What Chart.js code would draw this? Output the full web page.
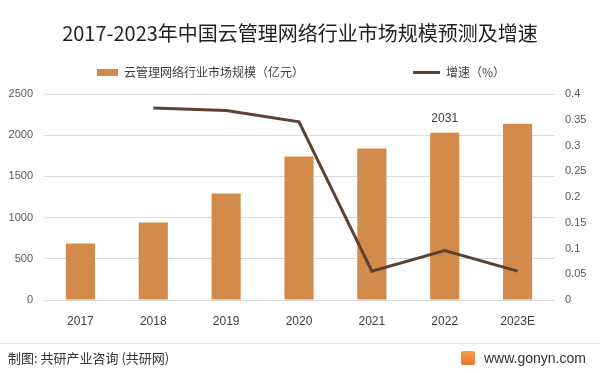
<!DOCTYPE html>
<html lang="zh">
<head>
  <meta charset="UTF-8">
  <title>2017-2023年中国云管理网络行业市场规模预测及增速</title>
  <script src="https://cdn.jsdelivr.net/npm/chart.js@4.4.0/dist/chart.umd.min.js"></script>
  <style>
    body { margin: 0; background: #fff; font-family: "Noto Sans CJK SC", sans-serif; }
    #wrap { position: relative; width: 600px; height: 373px; overflow: hidden; }
    #chart { position: absolute; left: 0; top: 0; }
    #title { position: absolute; top: 19px; left: 0; width: 600px; text-align: center;
             font-size: 20px; line-height: 28px; color: #1f1f1f; }
    .lg { position: absolute; top: 63px; font-size: 12px; line-height: 18px; color: #404040; white-space: nowrap; }
    .sw { display: inline-block; vertical-align: middle; margin-right: 6px; position: relative; top: -1px; }
    #footLine { position: absolute; left: 0; top: 343px; width: 600px; height: 1px; background: #e6e6e6; }
    #src { position: absolute; left: 8px; top: 349px; font-size: 13px; line-height: 18px; color: #333; }
    #site { position: absolute; left: 461px; top: 349px; font-size: 14px; line-height: 18px; color: #333;
            font-family: "Liberation Sans", "Noto Sans", sans-serif; }
    #logo { display: inline-block; width: 14px; height: 14px; border-radius: 2px; vertical-align: middle;
            background: linear-gradient(#f6a04d, #e8742a); margin-right: 9px; position: relative; top: -1px; }
  </style>
</head>
<body>
<div id="wrap">
  <canvas id="chart" width="600" height="373"></canvas>
  <div id="title">2017-2023年中国云管理网络行业市场规模预测及增速</div>
  <div class="lg" style="left:97px"><span class="sw" style="width:21px;height:7px;background:#d38b4c"></span>云管理网络行业市场规模（亿元）</div>
  <div class="lg" style="left:413px"><span class="sw" style="width:27px;height:3px;background:#5e4130"></span>增速（%）</div>
  <div id="footLine"></div>
  <div id="src">制图: 共研产业咨询 (共研网)</div>
  <div id="site"><span id="logo"></span>www.gonyn.com</div>
</div>

<script>
  // données
  const years      = ['2017', '2018', '2019', '2020', '2021', '2022', '2023E'];
  const marketSize = [687, 941, 1292, 1741, 1838, 2031, 2140];
  const growthRate = [null, 0.373, 0.368, 0.346, 0.056, 0.096, 0.056];
  const sizeLabels = ['', '', '', '', '', '2031', ''];
  const leftTicks  = [0, 500, 1000, 1500, 2000, 2500];
  const rightTicks = [0, 0.05, 0.1, 0.15, 0.2, 0.25, 0.3, 0.35, 0.4];

  const tickFont = { family: '"Liberation Sans", "Noto Sans", sans-serif', size: 11 };

  // étiquette au-dessus de la barre 2022
  const barLabel = {
    id: 'barLabel',
    afterDatasetsDraw(chart) {
      const meta = chart.getDatasetMeta(0);
      const ctx = chart.ctx;
      ctx.save();
      ctx.font = '12px "Liberation Sans", "Noto Sans", sans-serif';
      ctx.fillStyle = '#404040';
      ctx.textAlign = 'center';
      ctx.textBaseline = 'middle';
      sizeLabels.forEach((t, i) => {
        if (!t) return;
        const el = meta.data[i];
        ctx.fillText(t, el.x, el.y - 14);
      });
      ctx.restore();
    }
  };

  new Chart(document.getElementById('chart'), {
    type: 'bar',
    data: {
      labels: years,
      datasets: [
        {
          type: 'bar', label: '云管理网络行业市场规模（亿元）', data: marketSize,
          backgroundColor: '#d38b4c', yAxisID: 'y', order: 1,
          barPercentage: 0.4, categoryPercentage: 1
        },
        {
          type: 'line', label: '增速（%）', data: growthRate,
          borderColor: '#5e4130', borderWidth: 3, pointRadius: 0, tension: 0,
          yAxisID: 'y1', order: 0, spanGaps: false
        }
      ]
    },
    options: {
      responsive: false,
      animation: false,
      layout: { padding: { top: 94, left: 0, right: 0, bottom: 0 } },
      plugins: { legend: { display: false }, title: { display: false }, tooltip: { enabled: false } },
      scales: {
        x: {
          grid: { display: false, drawTicks: false },
          border: { display: false },
          ticks: { color: '#404040', font: { family: tickFont.family, size: 12 }, padding: 14 },
          afterFit: s => { s.height = 73; }
        },
        y: {
          position: 'left', min: 0, max: 2500,
          grid: { color: '#d9d9d9', lineWidth: 1, drawTicks: false },
          border: { display: false },
          afterBuildTicks: s => { s.ticks = leftTicks.map(v => ({ value: v })); },
          ticks: { color: '#595959', font: tickFont, padding: 11, callback: v => String(v) },
          afterFit: s => { s.width = 44; }
        },
        y1: {
          position: 'right', min: 0, max: 0.4,
          grid: { display: false, drawTicks: false },
          border: { display: false },
          afterBuildTicks: s => { s.ticks = rightTicks.map(v => ({ value: v })); },
          ticks: { color: '#595959', font: tickFont, padding: 11, callback: v => String(+(+v).toFixed(2)) },
          afterFit: s => { s.width = 46; }
        }
      }
    },
    plugins: [barLabel]
  });
</script>
</body>
</html>
